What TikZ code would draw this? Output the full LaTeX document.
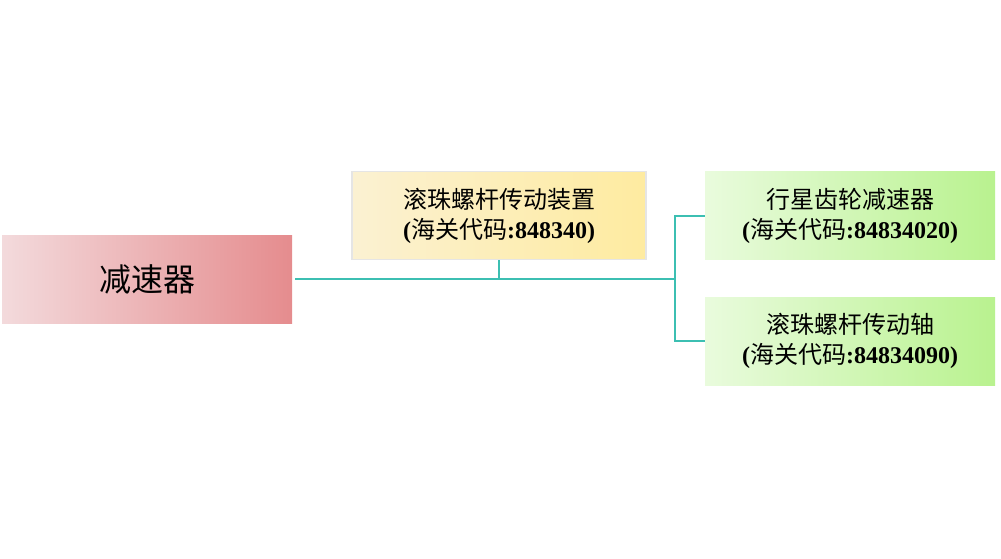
\documentclass[tikz,border=0pt]{standalone}
\usepackage{fontspec}
\setmainfont{Liberation Serif}
\newfontfamily\cjk{Noto Sans CJK SC}
\definecolor{teal1}{HTML}{3CBFB2}
\definecolor{pinkL}{HTML}{F3DADC}
\definecolor{pinkR}{HTML}{E58C8E}
\definecolor{yelL}{HTML}{FBF1D2}
\definecolor{yelR}{HTML}{FEEBA0}
\definecolor{grnL}{HTML}{E9FBDD}
\definecolor{grnR}{HTML}{B9F28F}
\newcommand{\code}[1]{{\bfseries(}{\cjk 海关代码}{\bfseries:#1)}}
\begin{document}
\begin{tikzpicture}[x=1pt,y=-1pt,
  box/.style={minimum width=290pt,minimum height=88pt,inner sep=0pt,align=center,font=\fontsize{24}{30}\selectfont},
  conn/.style={draw=teal1,line width=2pt}]
\useasboundingbox (0,0) rectangle (1001,558);
\node[box,left color=pinkL,right color=pinkR] (root) at (147,279) {\cjk\fontsize{32}{36}\selectfont 减速器};
\node[box,minimum width=294pt,draw=black!10,line width=1.5pt,left color=yelL,right color=yelR] (mid) at (499,215.5) {{\cjk 滚珠螺杆传动装置}\\\code{848340}};
\node[box,left color=grnL,right color=grnR] (g1) at (850,215.5) {{\cjk 行星齿轮减速器}\\\code{84834020}};
\node[box,left color=grnL,right color=grnR] (g2) at (850,341) {{\cjk 滚珠螺杆传动轴}\\\code{84834090}};
\coordinate (j) at (675,279);
\draw[conn] ([xshift=3pt]root.east) -- (j);
\draw[conn] (mid.south) -- (mid.south |- j);
\draw[conn] (g1.west) -| (j) |- (g2.west);
\end{tikzpicture}
\end{document}
